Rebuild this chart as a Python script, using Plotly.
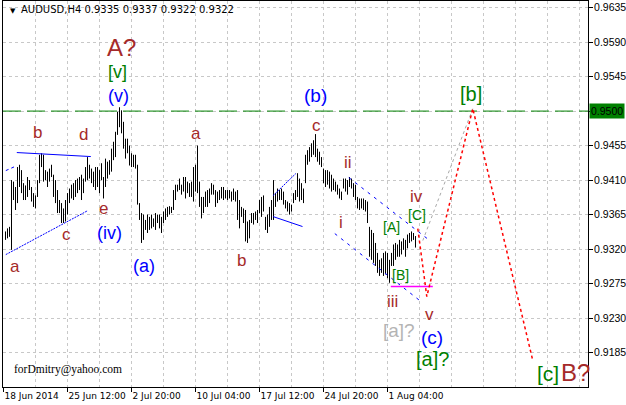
import plotly.graph_objects as go

# ---------------- data ----------------
symbol = "AUDUSD,H4"
title_ohlc = [0.9335, 0.9337, 0.9322, 0.9322]

highs = [
    0.9343, 0.9347, 0.9349, 0.9410, 0.9408, 0.9401, 0.9427, 0.9430, 0.9423, 0.9406,
    0.9403, 0.9414, 0.9410, 0.9401, 0.9393, 0.9390, 0.9410, 0.9443, 0.9445, 0.9443,
    0.9423, 0.9421, 0.9425, 0.9430, 0.9417, 0.9410, 0.9397, 0.9384, 0.9380, 0.9373,
    0.9384, 0.9393, 0.9399, 0.9404, 0.9406, 0.9410, 0.9412, 0.9414, 0.9417, 0.9412,
    0.9427, 0.9440, 0.9430, 0.9425, 0.9421, 0.9427, 0.9427, 0.9423, 0.9432, 0.9414,
    0.9438, 0.9434, 0.9436, 0.9451, 0.9460, 0.9473, 0.9499, 0.9505, 0.9501, 0.9486,
    0.9464, 0.9464, 0.9455, 0.9445, 0.9443, 0.9443, 0.9430, 0.9380, 0.9367, 0.9365,
    0.9358, 0.9365, 0.9362, 0.9365, 0.9360, 0.9367, 0.9365, 0.9365, 0.9362, 0.9369,
    0.9373, 0.9375, 0.9376, 0.9375, 0.9397, 0.9404, 0.9404, 0.9412, 0.9404, 0.9414,
    0.9414, 0.9408, 0.9406, 0.9408, 0.9427, 0.9430, 0.9455, 0.9408, 0.9388, 0.9388,
    0.9395, 0.9397, 0.9399, 0.9406, 0.9404, 0.9397, 0.9395, 0.9397, 0.9401, 0.9401,
    0.9397, 0.9397, 0.9397, 0.9395, 0.9399, 0.9395, 0.9397, 0.9384, 0.9375, 0.9373,
    0.9371, 0.9356, 0.9358, 0.9367, 0.9367, 0.9369, 0.9371, 0.9384, 0.9388, 0.9390,
    0.9362, 0.9365, 0.9375, 0.9384, 0.9410, 0.9393, 0.9399, 0.9397, 0.9399, 0.9395,
    0.9384, 0.9382, 0.9380, 0.9378, 0.9393, 0.9397, 0.9419, 0.9412, 0.9406, 0.9399,
    0.9443, 0.9449, 0.9453, 0.9458, 0.9462, 0.9470, 0.9451, 0.9447, 0.9440, 0.9425,
    0.9423, 0.9423, 0.9421, 0.9417, 0.9412, 0.9408, 0.9404, 0.9399, 0.9395, 0.9412,
    0.9412, 0.9410, 0.9414, 0.9412, 0.9406, 0.9404, 0.9388, 0.9386, 0.9386, 0.9386,
    0.9384, 0.9382, 0.9349, 0.9345, 0.9341, 0.9328, 0.9315, 0.9306, 0.9308, 0.9315,
    0.9317, 0.9315, 0.9306, 0.9315, 0.9326, 0.9328, 0.9326, 0.9332, 0.9330, 0.9334,
    0.9332, 0.9339, 0.9341, 0.9343, 0.9341, 0.9337,
]
lows = [
    0.9332, 0.9334, 0.9336, 0.9319, 0.9384, 0.9371, 0.9380, 0.9401, 0.9393, 0.9384,
    0.9384, 0.9388, 0.9397, 0.9382, 0.9375, 0.9373, 0.9388, 0.9406, 0.9427, 0.9408,
    0.9410, 0.9401, 0.9408, 0.9414, 0.9388, 0.9380, 0.9367, 0.9367, 0.9354, 0.9354,
    0.9356, 0.9365, 0.9380, 0.9386, 0.9384, 0.9388, 0.9393, 0.9397, 0.9384, 0.9393,
    0.9408, 0.9410, 0.9412, 0.9406, 0.9401, 0.9397, 0.9401, 0.9393, 0.9410, 0.9386,
    0.9401, 0.9412, 0.9417, 0.9421, 0.9436, 0.9440, 0.9469, 0.9479, 0.9471, 0.9451,
    0.9438, 0.9445, 0.9429, 0.9427, 0.9427, 0.9425, 0.9378, 0.9358, 0.9328, 0.9332,
    0.9345, 0.9341, 0.9345, 0.9347, 0.9349, 0.9345, 0.9354, 0.9347, 0.9341, 0.9354,
    0.9358, 0.9362, 0.9365, 0.9367, 0.9371, 0.9384, 0.9395, 0.9397, 0.9391, 0.9395,
    0.9386, 0.9393, 0.9388, 0.9388, 0.9382, 0.9395, 0.9393, 0.9375, 0.9360, 0.9367,
    0.9375, 0.9375, 0.9380, 0.9391, 0.9391, 0.9375, 0.9380, 0.9384, 0.9386, 0.9384,
    0.9386, 0.9384, 0.9386, 0.9382, 0.9384, 0.9382, 0.9358, 0.9347, 0.9362, 0.9354,
    0.9330, 0.9328, 0.9334, 0.9354, 0.9352, 0.9358, 0.9354, 0.9367, 0.9362, 0.9369,
    0.9345, 0.9341, 0.9349, 0.9358, 0.9358, 0.9375, 0.9382, 0.9384, 0.9384, 0.9378,
    0.9373, 0.9369, 0.9365, 0.9369, 0.9380, 0.9384, 0.9388, 0.9382, 0.9384, 0.9380,
    0.9406, 0.9430, 0.9434, 0.9440, 0.9443, 0.9440, 0.9434, 0.9430, 0.9427, 0.9406,
    0.9401, 0.9404, 0.9399, 0.9395, 0.9397, 0.9395, 0.9391, 0.9386, 0.9384, 0.9399,
    0.9395, 0.9391, 0.9401, 0.9399, 0.9388, 0.9384, 0.9373, 0.9371, 0.9373, 0.9371,
    0.9369, 0.9354, 0.9310, 0.9306, 0.9302, 0.9298, 0.9289, 0.9285, 0.9289, 0.9285,
    0.9287, 0.9282, 0.9276, 0.9298, 0.9298, 0.9306, 0.9310, 0.9310, 0.9313, 0.9319,
    0.9310, 0.9321, 0.9328, 0.9330, 0.9332, 0.9322,
]
bar_index = list(range(1, len(highs) + 1))

time_tick_index = [0, 32, 64, 96, 128, 160, 192]
time_tick_labels = ["18 Jun 2014", "25 Jun 12:00", "2 Jul 20:00", "10 Jul 04:00",
                    "17 Jul 12:00", "24 Jul 20:00", "1 Aug 04:00"]
price_ticks = [0.9185, 0.9230, 0.9275, 0.9320, 0.9365, 0.9410, 0.9455,
               0.9500, 0.9545, 0.9590, 0.9635]
resistance_level = 0.9500
support_level = 0.92711

# analyst drawings (bar index, price)
tri_upper_x, tri_upper_y = [6.65, 43.65], [0.94459, 0.94407]
tri_lower_x, tri_lower_y = [1.15, 42.15], [0.93128, 0.93702]
tri_short_x, tri_short_y = [1.15, 5.65], [0.94224, 0.94276]
flag_upper_x, flag_upper_y = [134.8, 146.15], [0.93898, 0.94185]
flag_lower_x, flag_lower_y = [134.8, 149.5], [0.93624, 0.93494]
chan_upper_x, chan_upper_y = [172.65, 213.15], [0.94133, 0.93311]
chan_lower_x, chan_lower_y = [165.65, 208.15], [0.93402, 0.92528]
support_x = [193.65, 214.65]
forecast_red_x = [207.15, 211.65, 234.65, 264.65]
forecast_red_y = [0.93467, 0.92581, 0.95033, 0.91746]
forecast_gray_x = [209.65, 234.65]
forecast_gray_y = [0.93311, 0.95033]

BROWN, BLUE, GREEN, SILVER = "#A52A2A", "#0000FF", "#008000", "#B4B4B4"
wave_labels = [
    ("A?", 59.15, 0.95828, BROWN, 24),
    ("[v]", 57.15, 0.95515, GREEN, 18),
    ("(v)", 57.65, 0.95202, BLUE, 18),
    ("(b)", 156.15, 0.95202, BLUE, 19),
    ("[b]", 233.65, 0.95228, GREEN, 20),
    ("b", 17.15, 0.94720, BROWN, 17),
    ("d", 40.15, 0.94694, BROWN, 17),
    ("a", 96.15, 0.94707, BROWN, 17),
    ("c", 156.65, 0.94811, BROWN, 17),
    ("ii", 172.15, 0.94328, BROWN, 17),
    ("e", 50.15, 0.93728, BROWN, 17),
    ("(iv)", 53.15, 0.93415, BLUE, 18),
    ("c", 31.65, 0.93389, BROWN, 17),
    ("i", 168.65, 0.93546, BROWN, 17),
    ("iv", 206.65, 0.93885, BROWN, 17),
    ("[C]", 206.65, 0.93640, GREEN, 14),
    ("[A]", 194.15, 0.93494, GREEN, 14),
    ("(a)", 70.15, 0.92985, BLUE, 18),
    ("b", 119.15, 0.93050, BROWN, 17),
    ("[B]", 198.65, 0.92868, GREEN, 14),
    ("a", 5.65, 0.92972, BROWN, 17),
    ("iii", 194.4, 0.92515, BROWN, 17),
    ("v", 213.15, 0.92346, BROWN, 17),
    ("[a]?", 197.65, 0.92137, SILVER, 19),
    ("(c)", 214.15, 0.92046, BLUE, 19),
    ("[a]?", 214.65, 0.91772, GREEN, 20),
    ("[c]", 272.15, 0.91576, GREEN, 21),
    ("B?", 286.15, 0.91589, BROWN, 24),
]

# ---------------- figure ----------------
fig = go.Figure()

bx, by = [], []
for t, h, l in zip(bar_index, highs, lows):
    bx += [t, t, None]
    by += [l, h, None]
fig.add_trace(go.Scatter(x=bx, y=by, mode="lines",
                         line=dict(color="black", width=1), hoverinfo="skip"))


def seg(x, y, color, dash, width=1):
    fig.add_trace(go.Scatter(x=x, y=y, mode="lines",
                             line=dict(color=color, width=width, dash=dash),
                             hoverinfo="skip"))


seg([-0.25, 292.25], [resistance_level, resistance_level], GREEN, "18px,6px")
seg(tri_upper_x, tri_upper_y, BLUE, "solid")
seg(tri_lower_x, tri_lower_y, BLUE, "2px,1px")
seg(tri_short_x, tri_short_y, BLUE, "3px,3px")
seg(flag_upper_x, flag_upper_y, BLUE, "2px,1px")
seg(flag_lower_x, flag_lower_y, BLUE, "solid")
seg(chan_upper_x, chan_upper_y, BLUE, "3px,5px")
seg(chan_lower_x, chan_lower_y, BLUE, "3px,5px")
seg(support_x, [support_level, support_level], "#FF00FF", "solid", 1.5)
seg(forecast_gray_x, forecast_gray_y, "#A8A8A8", "3px,3px")
seg(forecast_red_x, forecast_red_y, "#FF0000", "3px,3px", 1.5)

annotations = []
for text, t, p, color, size in wave_labels:
    annotations.append(dict(x=t, y=p, xref="x", yref="y", text=text, showarrow=False,
                            font=dict(family="Liberation Sans", size=size, color=color),
                            xanchor="center", yanchor="middle"))

title_text = symbol + " " + " ".join(f"{v:.4f}" for v in title_ohlc)
annotations.append(dict(xref="paper", yref="paper", x=0.0274, y=0.9767, text=title_text,
                        showarrow=False, xanchor="left", yanchor="middle",
                        font=dict(family="DejaVu Sans", size=10, color="black")))
annotations.append(dict(xref="paper", yref="paper", x=0.0085, y=0.975, text="▼",
                        showarrow=False, xanchor="left", yanchor="middle",
                        font=dict(family="DejaVu Sans", size=7, color="black")))
annotations.append(dict(x=4.15, y=0.91629, xref="x", yref="y", text="forDmitry@yahoo.com",
                        showarrow=False, xanchor="left", yanchor="middle",
                        font=dict(family="Liberation Serif", size=11.5, color="black")))
annotations.append(dict(xref="paper", yref="y", x=1.0, y=resistance_level,
                        text=f"{resistance_level:.4f}", showarrow=False,
                        xanchor="left", yanchor="middle", xshift=1,
                        bgcolor=GREEN, borderpad=1,
                        font=dict(family="Liberation Sans", size=10.5, color="black")))

# the resistance level's own price box replaces its axis label
price_tick_text = ["" if abs(v - resistance_level) < 1e-9 else f"{v:.4f}" for v in price_ticks]

fig.update_layout(
    width=626, height=405, autosize=False,
    margin=dict(l=3, r=38, t=1, b=18),
    paper_bgcolor="white", plot_bgcolor="white",
    showlegend=False,
    annotations=annotations,
    xaxis=dict(
        range=[-0.25, 292.25], showline=True, mirror=True, linecolor="black", linewidth=1,
        tickmode="array", tickvals=time_tick_index, ticktext=time_tick_labels,
        ticks="outside", ticklen=4, tickcolor="black", tickangle=0,
        ticklabelposition="outside right",
        tickfont=dict(family="DejaVu Sans", size=9, color="black"),
        showgrid=True, gridcolor="#C8C8C8", griddash="3px,3px", gridwidth=1,
        minor=dict(tick0=0, dtick=16, showgrid=True, gridcolor="#C8C8C8",
                   griddash="3px,3px", ticks=""),
        zeroline=False, fixedrange=True,
    ),
    yaxis=dict(
        range=[0.91401, 0.96436], side="right", showline=True, mirror=True,
        linecolor="black", linewidth=1,
        tickmode="array", tickvals=price_ticks, ticktext=price_tick_text,
        ticks="outside", ticklen=4, tickcolor="black",
        ticklabelstandoff=-1,
        tickfont=dict(family="Liberation Sans", size=10.5, color="black"),
        showgrid=True, gridcolor="#C8C8C8", griddash="3px,3px", gridwidth=1,
        zeroline=False, fixedrange=True,
    ),
)

fig.write_html(
    "out.html",
    config={"displayModeBar": False, "staticPlot": True},
    post_script="document.body.style.margin='0';document.body.style.overflow='hidden';",
)
